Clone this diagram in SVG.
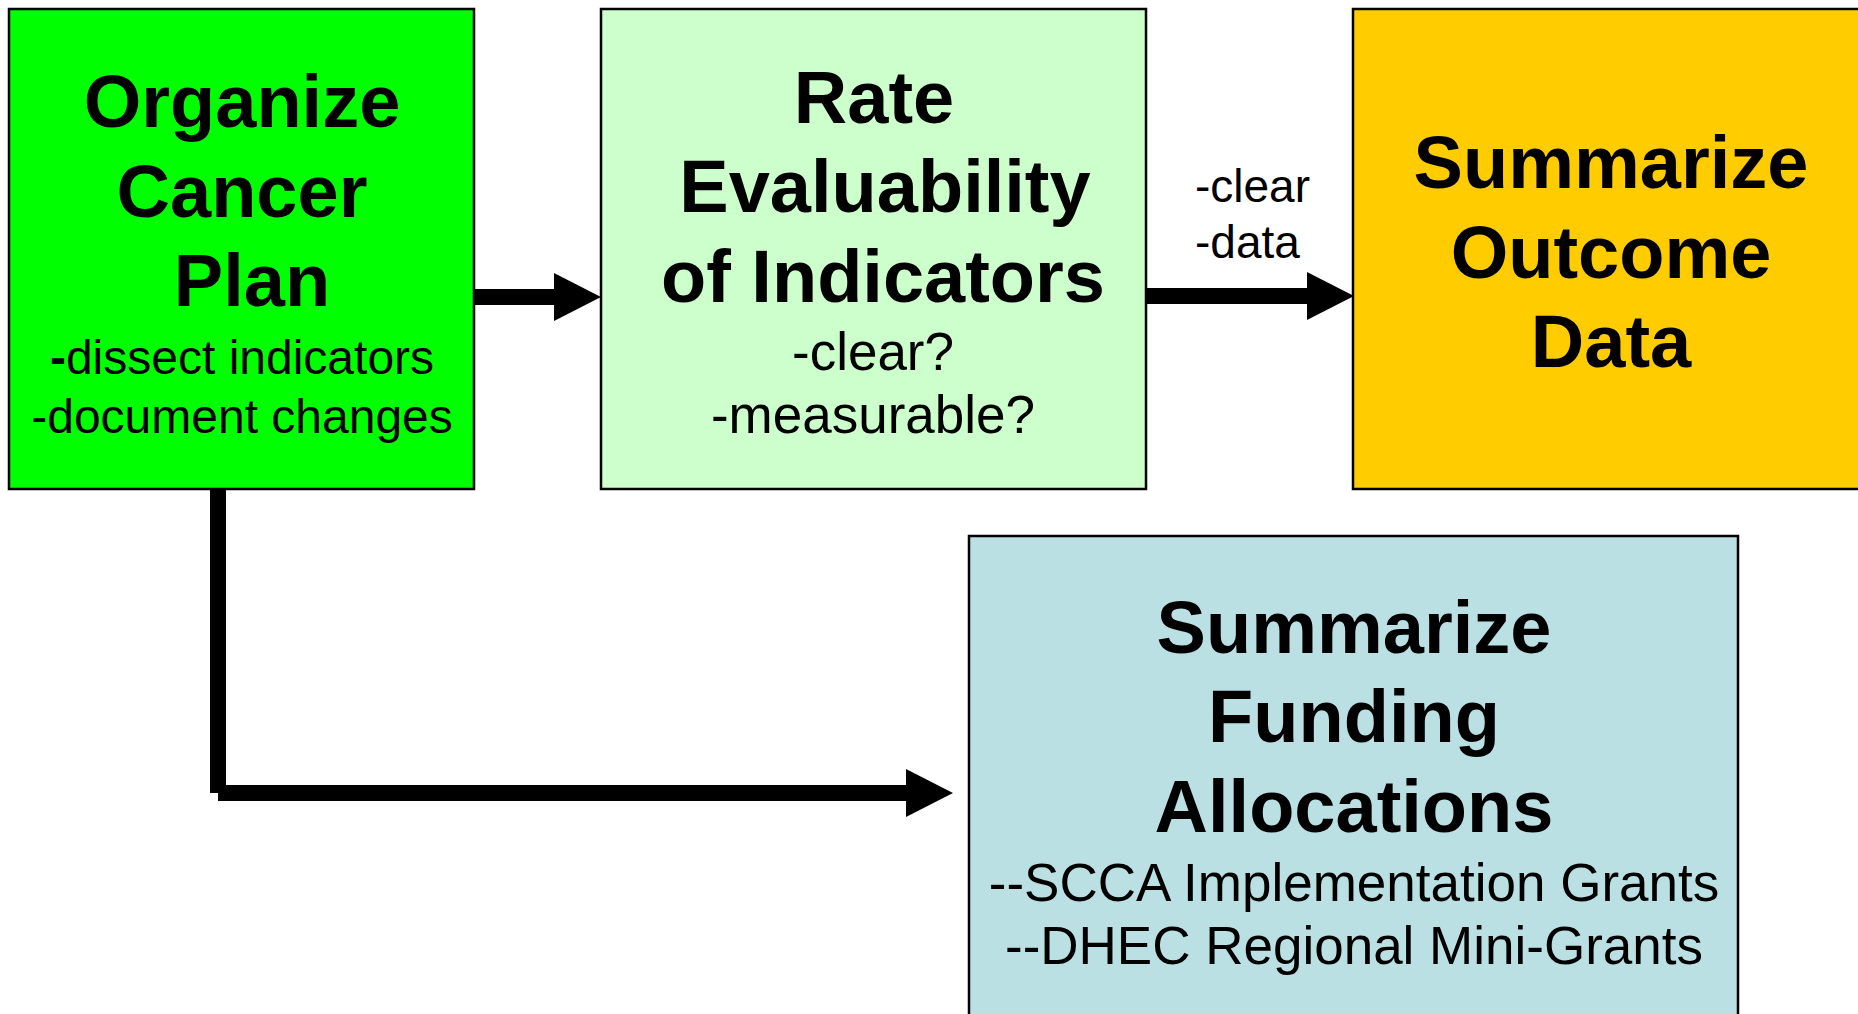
<svg xmlns="http://www.w3.org/2000/svg" width="1858" height="1014" viewBox="0 0 1858 1014">
  <style>
    .box { stroke: #000; stroke-width: 2.5; }
    .title { font-family: "Liberation Sans", Arial, sans-serif; font-weight: bold; font-size: 74px; text-anchor: middle; fill: #000; }
    .sub { font-family: "Liberation Sans", Arial, sans-serif; font-size: 53px; text-anchor: middle; fill: #000; }
    .sub-sm { font-family: "Liberation Sans", Arial, sans-serif; font-size: 48px; text-anchor: middle; fill: #000; }
    .lbl { font-family: "Liberation Sans", Arial, sans-serif; font-size: 46px; fill: #000; }
    .wire { stroke: #000; stroke-width: 16; fill: none; stroke-linecap: butt; }
  </style>
  <defs>
    <marker id="head" markerUnits="userSpaceOnUse" markerWidth="48" markerHeight="48" refX="0" refY="24" orient="auto">
      <path d="M0,0 L47,24 L0,48 Z" fill="#000"/>
    </marker>
  </defs>

  <rect width="1858" height="1014" fill="#fff"/>

  <!-- Organize Cancer Plan -->
  <g id="organize">
    <rect class="box" x="9" y="9" width="465" height="480" fill="#00FF00"/>
    <text class="title" x="242" y="127">Organize</text>
    <text class="title" x="242" y="217">Cancer</text>
    <text class="title" x="252" y="306">Plan</text>
    <text class="sub-sm" x="242" y="374"><tspan font-weight="bold">-</tspan>dissect indicators</text>
    <text class="sub-sm" x="242" y="433">-document changes</text>
  </g>

  <!-- Rate Evaluability of Indicators -->
  <g id="rate">
    <rect class="box" x="601" y="9" width="545" height="480" fill="#CCFFCC"/>
    <text class="title" x="874" y="123">Rate</text>
    <text class="title" x="885" y="212">Evaluability</text>
    <text class="title" x="883" y="302">of Indicators</text>
    <text class="sub" x="873" y="370">-clear?</text>
    <text class="sub" x="873" y="433">-measurable?</text>
  </g>

  <!-- Summarize Outcome Data -->
  <g id="outcome">
    <rect class="box" x="1353" y="9" width="520" height="480" fill="#FFCC00"/>
    <text class="title" x="1611" y="188">Summarize</text>
    <text class="title" x="1611" y="278">Outcome</text>
    <text class="title" x="1611" y="367">Data</text>
  </g>

  <!-- Summarize Funding Allocations -->
  <g id="funding">
    <rect class="box" x="969" y="536" width="769" height="490" fill="#BBE0E3"/>
    <text class="title" x="1354" y="653">Summarize</text>
    <text class="title" x="1354" y="742">Funding</text>
    <text class="title" x="1354" y="832">Allocations</text>
    <text class="sub" x="1354" y="901">--SCCA Implementation Grants</text>
    <text class="sub" x="1354" y="964">--DHEC Regional Mini-Grants</text>
  </g>

  <!-- Connectors -->
  <g id="connectors">
    <line class="wire" x1="474" y1="297" x2="554" y2="297" marker-end="url(#head)"/>
    <line class="wire" x1="1146" y1="296" x2="1307" y2="296" marker-end="url(#head)"/>
    <line class="wire" x1="218" y1="489" x2="218" y2="793"/>
    <line class="wire" x1="218" y1="793" x2="906" y2="793" marker-end="url(#head)"/>
    <text class="lbl" x="1195" y="202">-clear</text>
    <text class="lbl" x="1195" y="258">-data</text>
  </g>
</svg>
